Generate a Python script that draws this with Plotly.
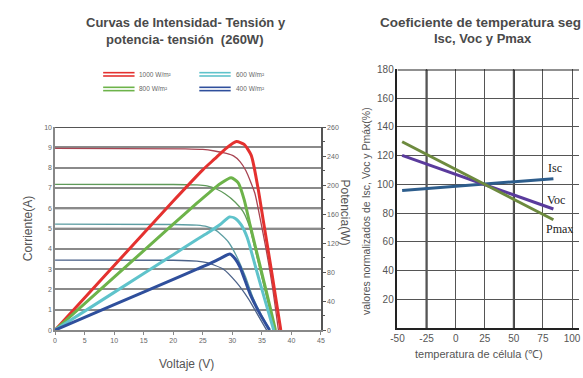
import plotly.graph_objects as go

W, H = 583, 378

# ---- left chart data ----
irradiance = ["1000 W/m²", "800 W/m²", "600 W/m²", "400 W/m²"]

iv_v_1000 = [0, 22, 25, 27, 29, 30.2, 31.3, 32.3, 33.8, 34.7, 35.7, 36.8, 37.8]
iv_i_1000 = [8.95, 8.93, 8.9, 8.82, 8.7, 8.58, 8.3, 7.85, 6.75, 5.5, 4.0, 2.1, 0]
iv_v_800 = [0, 20, 24, 25.7, 27.3, 28.8, 30.5, 31.8, 32.9, 34, 35, 36, 37.2]
iv_i_800 = [7.18, 7.17, 7.15, 7.1, 6.95, 6.7, 6.3, 5.85, 5.1, 3.8, 2.6, 1.4, 0]
iv_v_600 = [0, 20, 24, 25.7, 27.3, 29.3, 30.7, 32.2, 33.5, 35, 36.4]
iv_i_600 = [5.22, 5.2, 5.17, 5.1, 4.9, 4.35, 3.65, 2.65, 1.6, 0.7, 0]
iv_v_400 = [0, 20, 24, 25.7, 28.5, 30.7, 32.7, 34.6, 35.8]
iv_i_400 = [3.45, 3.44, 3.4, 3.32, 3.0, 2.35, 1.55, 0.6, 0]

pv_v_1000 = [0, 10, 20, 25, 27, 29, 30.7, 32, 33.2, 34.3, 35.2, 36.7, 38.2]
pv_p_1000 = [0, 89, 178, 221, 236, 251, 260, 256, 241, 198, 153, 78, 0]
pv_v_800 = [0, 10, 20, 24, 26, 28, 29.8, 31, 32, 33, 34.5, 36, 37.3]
pv_p_800 = [0, 73, 146, 175, 189, 202, 210, 203, 180, 145, 95, 45, 0]
pv_v_600 = [0, 10, 20, 24, 26, 28, 29.5, 30.5, 31.5, 32.5, 34, 35.5, 37]
pv_p_600 = [0, 52, 104, 125, 135, 146, 156, 154, 145, 128, 85, 42, 0]
pv_v_400 = [0, 10, 20, 24, 26, 28, 29.6, 30.5, 31.3, 33, 34.7, 36.3]
pv_p_400 = [0, 35, 70, 84, 91, 99, 105, 98, 87, 50, 22, 0]

volt_ticks = [0, 5, 10, 15, 20, 25, 30, 35, 40, 45]
amp_ticks = [0, 1, 2, 3, 4, 5, 6, 7, 8, 9, 10]
watt_tickvals = [0, 40, 80, 120, 160, 200, 240, 280]
watt_ticktext = ["0", "40", "80", "120", "160", "200", "240", "260"]

# ---- right chart data ----
temp = [-46, 25, 84]
isc = [95.8, 100, 104]
voc = [120.2, 100, 82.9]
pmax = [129.7, 100, 75.4]
temp_ticks = [-50, -25, 0, 25, 50, 75, 100]
temp_ticktext = ["-50", "-25", "0", "25", "50", "75", "100"]
pct_ticks = [20, 40, 60, 80, 100, 120, 140, 160, 180]

thick_cols = ["#e4312f", "#6db34a", "#5fc3cb", "#2f4f9c"]
thin_cols = ["#a84452", "#5f9a5a", "#5d9ea3", "#4c6289"]

iv_sets = [(iv_v_1000, iv_i_1000), (iv_v_800, iv_i_800), (iv_v_600, iv_i_600), (iv_v_400, iv_i_400)]
pv_sets = [(pv_v_1000, pv_p_1000), (pv_v_800, pv_p_800), (pv_v_600, pv_p_600), (pv_v_400, pv_p_400)]


def px(x):
    return x / W


def py(y):
    return 1 - y / H


fig = go.Figure()

for (v, i), c, name in zip(iv_sets, thin_cols, irradiance):
    fig.add_trace(go.Scatter(x=v, y=i, mode="lines", name=name,
                             line=dict(color=c, width=1.3, shape="spline", smoothing=0.6),
                             xaxis="x", yaxis="y"))
for (v, p), c, name in zip(pv_sets, thick_cols, irradiance):
    fig.add_trace(go.Scatter(x=v, y=p, mode="lines", name=name,
                             line=dict(color=c, width=3, shape="spline", smoothing=0.6),
                             xaxis="x", yaxis="y2"))

for vals, c in [(isc, "#2d5d8c"), (voc, "#5a3b9c"), (pmax, "#6d8a3e")]:
    fig.add_trace(go.Scatter(x=temp, y=vals, mode="lines", line=dict(color=c, width=3),
                             xaxis="x2", yaxis="y3"))

tick_font_l = dict(family="Liberation Sans, Arial", size=7, color="#666")
tick_font_r = dict(family="Liberation Sans, Arial", size=10, color="#555")

fig.update_layout(
    width=W, height=H, margin=dict(l=0, r=0, t=0, b=0),
    paper_bgcolor="white", plot_bgcolor="white", showlegend=False,
    xaxis=dict(domain=[px(49), px(320)], range=[0, 45], tickvals=volt_ticks,
               showgrid=False, zeroline=False, showline=True, linecolor="#888", linewidth=1.5,
               ticks="outside", ticklen=3, tickcolor="#888", tickfont=tick_font_l, anchor="y"),
    yaxis=dict(domain=[py(332), py(124)], range=[0, 10], tickvals=amp_ticks,
               showgrid=True, gridcolor="#8a8a8a", gridwidth=1.5, zeroline=False,
               showline=True, linecolor="#888", linewidth=1.5, tickfont=tick_font_l, anchor="x"),
    yaxis2=dict(overlaying="y", side="right", anchor="x", range=[0, 280],
                tickvals=watt_tickvals, ticktext=watt_ticktext, showgrid=False, zeroline=False,
                showline=True, linecolor="#555", linewidth=1.5, ticks="outside", ticklen=3,
                tickcolor="#555", tickfont=tick_font_l,
                minor=dict(tickmode="array", tickvals=[20, 60, 100, 140, 180, 220, 260],
                           ticks="outside", ticklen=2, tickcolor="#555")),
    xaxis2=dict(domain=[px(398), 1.0], range=[-50, 106], tickvals=temp_ticks, ticktext=temp_ticktext,
                showgrid=True, gridcolor="#555", gridwidth=1.2, zeroline=False,
                showline=True, linecolor="#222", linewidth=1.5, tickfont=tick_font_r, anchor="y3"),
    yaxis3=dict(domain=[py(330), py(65)], range=[0, 180], tickvals=pct_ticks,
                showgrid=True, gridcolor="#555", gridwidth=1.2, zeroline=False,
                showline=True, linecolor="#222", linewidth=1.5, tickfont=tick_font_r, anchor="x2"),
)

shapes = []
# darker emphasis lines on the grids
for yv in [1, 5, 6, 10]:
    shapes.append(dict(type="line", xref="x", yref="y", x0=0, x1=45, y0=yv, y1=yv,
                       line=dict(color="#555", width=1.8), layer="below"))
for xv in [-25, 50]:
    shapes.append(dict(type="line", xref="x2", yref="y3", x0=xv, x1=xv, y0=0, y1=180,
                       line=dict(color="#222", width=2), layer="below"))
shapes.append(dict(type="line", xref="x2", yref="y3", x0=-50, x1=106, y0=180, y1=180,
                   line=dict(color="#222", width=2)))

# legend of the left chart (double strokes)
leg = [(98, 70, 0), (196, 70, 2), (98, 85, 1), (196, 85, 3)]
annotations = []
for x0, y0, k in leg:
    for dy in (-1.7, 1.7):
        shapes.append(dict(type="line", xref="paper", yref="paper", x0=px(x0), x1=px(x0 + 32),
                           y0=py(y0 + dy), y1=py(y0 + dy), line=dict(color=thick_cols[k], width=1.6)))
    annotations.append(dict(text=irradiance[k], x=px(x0 + 35), y=py(y0), xref="paper", yref="paper",
                            xanchor="left", yanchor="middle", showarrow=False,
                            font=dict(family="Liberation Sans, Arial", size=6.5, color="#666")))


def label(text, x, y, size, angle=0, anchor="center", color="#555"):
    return dict(text=text, x=px(x), y=py(y), xref="paper", yref="paper", showarrow=False,
                xanchor=anchor, yanchor="middle", textangle=angle,
                font=dict(family="Liberation Sans, Arial", size=size, color=color))


annotations += [
    label("<b>Curvas de Intensidad- Tensión y</b>", 182, 17, 13, color="#4a4a4a"),
    label("<b>potencia- tensión  (260W)</b>", 181, 34, 13, color="#4a4a4a"),
    label("<b>Coeficiente de temperatura seg</b>", 378, 17, 13.5, anchor="left", color="#4a4a4a"),
    label("<b>Isc, Voc y Pmax</b>", 485, 33, 13, color="#4a4a4a"),
    label("Corriente(A)", 21, 228, 12, angle=-90),
    label("Potencia(W)", 345, 212, 12, angle=90),
    label("Voltaje (V)", 183, 367, 12),
    label("valores normalizados de Isc, Voc y Pmáx(%)", 366, 210, 10.5, angle=-90),
    label("temperatura de célula (℃)", 481, 356, 11),
]
serif = dict(family="Liberation Serif, Times New Roman", size=12, color="#222")
for txt, xv, yv in [("Isc", 85, 111.5), ("Voc", 86, 89.5), ("Pmax", 89, 69)]:
    annotations.append(dict(text=txt, x=xv, y=yv, xref="x2", yref="y3", showarrow=False,
                            xanchor="center", yanchor="middle", font=serif))

fig.update_layout(shapes=shapes, annotations=annotations)
# page body has a default 8px margin; drop it so the figure sits at the window's corner
fig.write_html("out.html", config={"displayModeBar": False},
               post_script="document.body.style.margin='0px';")
